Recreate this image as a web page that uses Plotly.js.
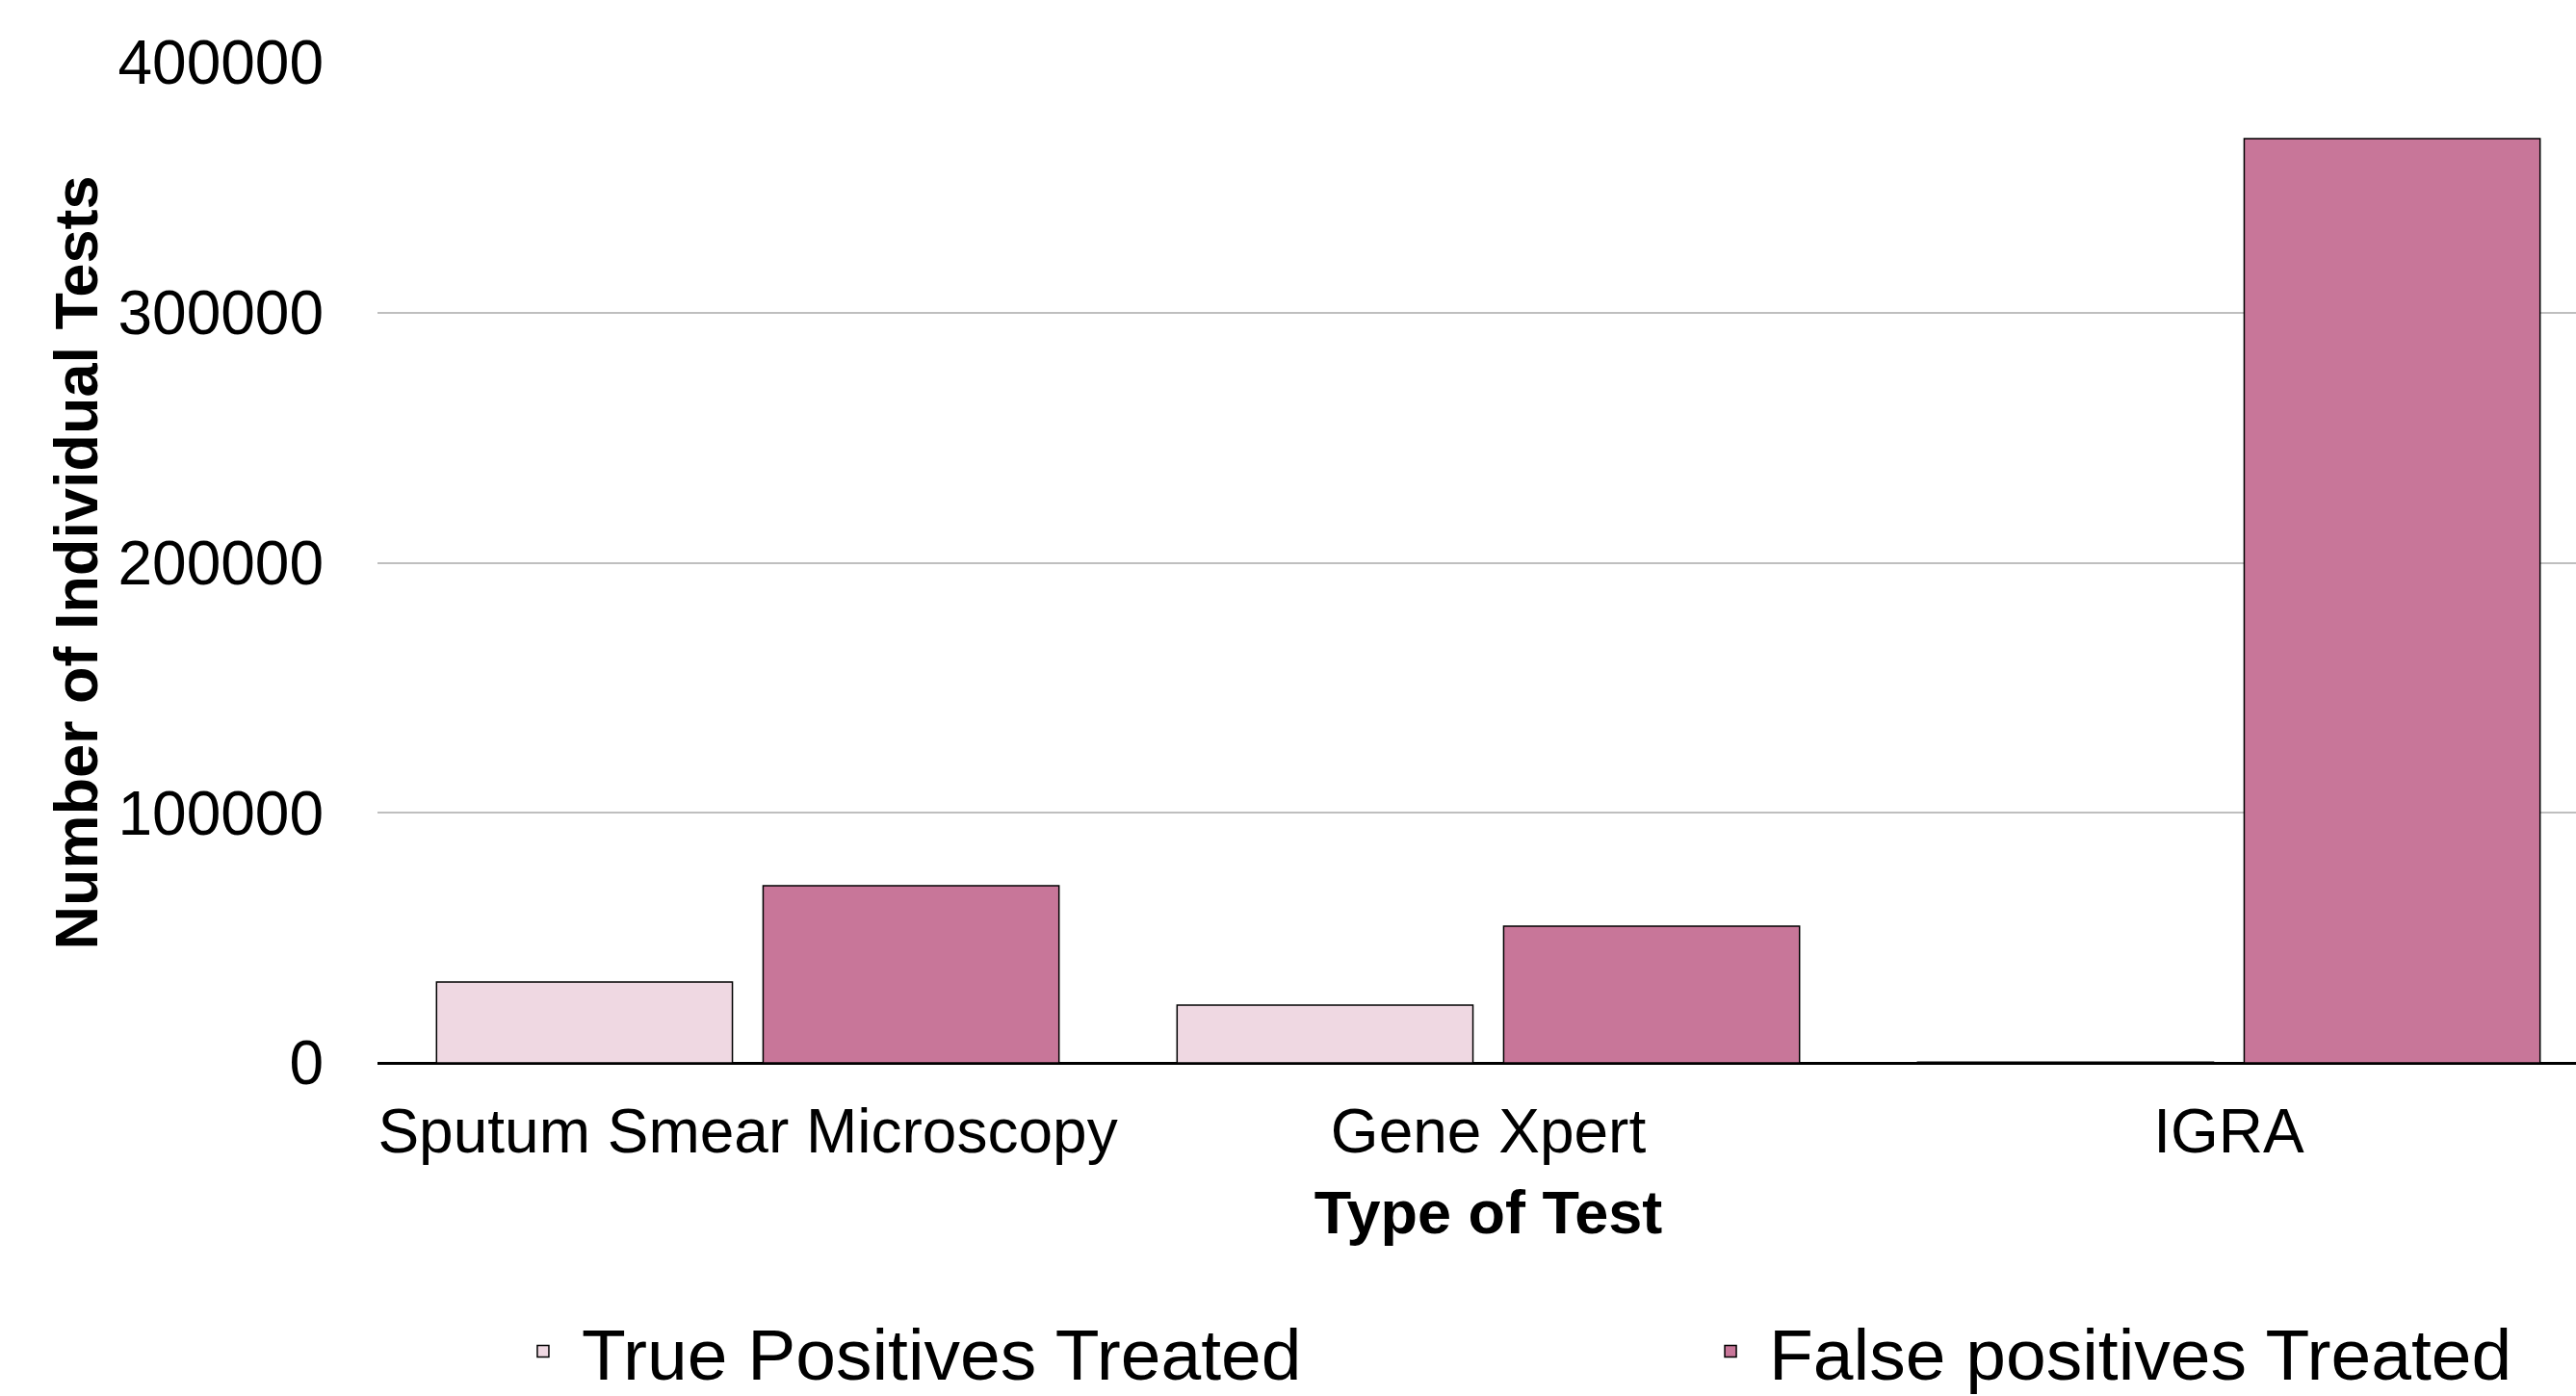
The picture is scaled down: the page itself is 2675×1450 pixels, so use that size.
<!DOCTYPE html>
<html>
<head>
<meta charset="utf-8">
<script src="https://cdn.plot.ly/plotly-3.0.1.min.js"></script>
<style>
html, body { margin: 0; padding: 0; overflow: hidden; background: #ffffff; }
#chart { width: 2699px; height: 1450px; }
</style>
</head>
<body>
<div id="chart"></div>
<script>
const categories = ["Sputum Smear Microscopy", "Gene Xpert", "IGRA"];
const truePositives = [32300, 23100, 300];
const falsePositives = [70800, 54700, 369600];
const seriesNames = ["True Positives Treated", "False positives Treated"];
const yTicks = [0, 100000, 200000, 300000, 400000];
const yTickText = ["0", "100000", "200000", "300000", "400000"];

const FONT = "Liberation Sans, Arial, sans-serif";

const traces = [
  {
    type: "bar", name: seriesNames[0], x: categories, y: truePositives,
    legend: "legend",
    marker: { color: "#EFD8E2", line: { color: "#000000", width: 1.5 } },
    hoverinfo: "x+y+name"
  },
  {
    type: "bar", name: seriesNames[1], x: categories, y: falsePositives,
    legend: "legend2",
    marker: { color: "#C87699", line: { color: "#000000", width: 1.5 } },
    hoverinfo: "x+y+name"
  }
];

const legendCommon = {
  orientation: "h", xanchor: "left", y: -0.2886, yanchor: "middle",
  font: { family: FONT, size: 75, color: "#000000" },
  itemwidth: 70, bgcolor: "rgba(0,0,0,0)", borderwidth: 0
};

const layout = {
  width: 2699, height: 1450,
  margin: { l: 392, r: 0, t: 65, b: 346, pad: 0, autoexpand: false },
  paper_bgcolor: "#ffffff", plot_bgcolor: "#ffffff",
  font: { family: FONT, size: 64, color: "#000000" },
  barmode: "group", bargap: 0.118, bargroupgap: 0.094,
  showlegend: true,
  legend: Object.assign({}, legendCommon, { x: 0.0572 }),
  legend2: Object.assign({}, legendCommon, { x: 0.5917 }),
  xaxis: {
    type: "category", range: [-0.5, 2.5], automargin: false,
    showgrid: false, zeroline: false, showline: false,
    ticks: "", ticklabelstandoff: 28,
    tickfont: { family: FONT, size: 64, color: "#000000" },
    title: { text: "Type of Test", font: { family: FONT, size: 63, weight: "bold", color: "#000000" }, standoff: 26 }
  },
  yaxis: {
    range: [0, 400000], tickvals: yTicks, ticktext: yTickText, automargin: false,
    showgrid: true, gridcolor: "#BFBFBF", gridwidth: 2,
    zeroline: true, zerolinecolor: "#000000", zerolinewidth: 3,
    showline: false, ticks: "", ticklabelstandoff: 55,
    tickfont: { family: FONT, size: 64, color: "#000000" },
    title: { text: "Number of Individual Tests", font: { family: FONT, size: 63, weight: "bold", color: "#000000" }, standoff: 0 }
  }
};

Plotly.newPlot("chart", traces, layout, { displayModeBar: false, staticPlot: true });
</script>
</body>
</html>
